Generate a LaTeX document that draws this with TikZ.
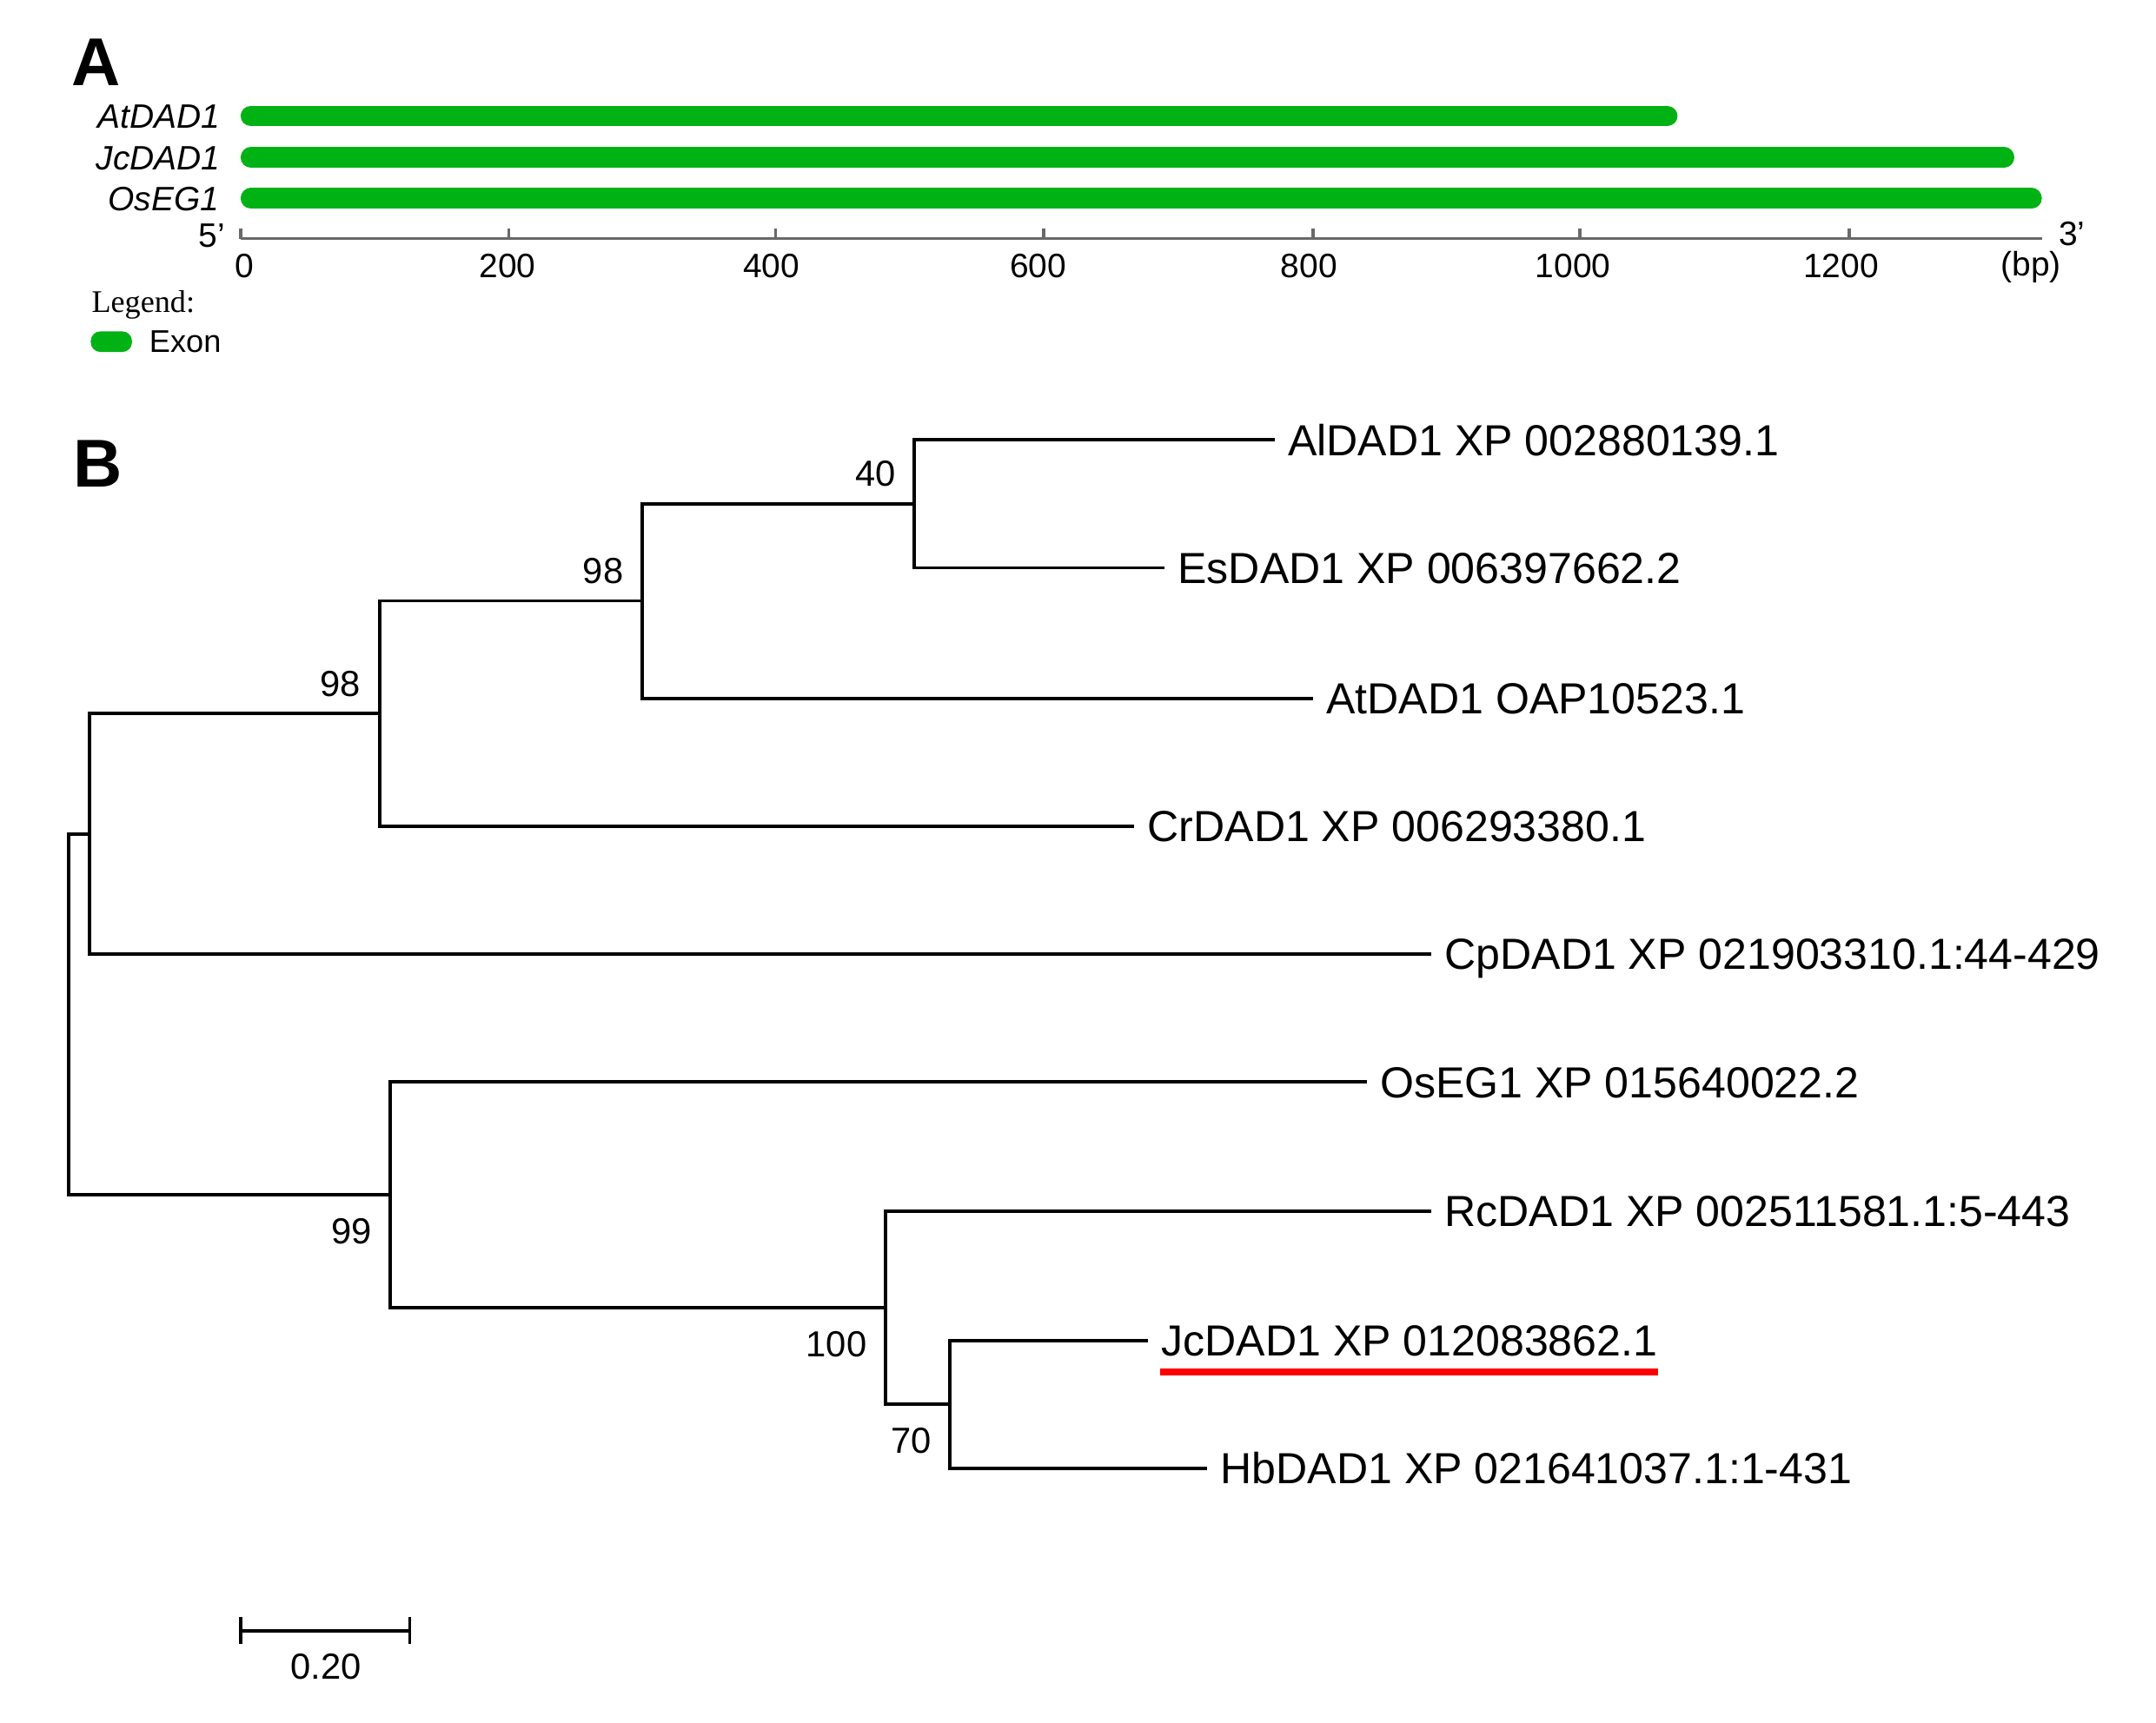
\documentclass[tikz,border=0pt]{standalone}
\usepackage{fontspec}
\setmainfont{Liberation Serif}
\setsansfont{Liberation Sans}
\usepackage{tikz}
\usetikzlibrary{positioning}
\definecolor{exongreen}{RGB}{0,178,20}
\definecolor{axisgray}{RGB}{105,105,105}

\begin{document}
\begin{tikzpicture}[x=0.01cm, y=-0.01cm,
    exon/.style={exongreen, line width=0.15cm, line cap=round},
    branch/.style={draw=black, line width=0.7pt},
    axisline/.style={draw=axisgray, line width=0.6pt},
    panel/.style={font=\sffamily\bfseries\fontsize{14}{15}\selectfont, inner sep=0pt},
    gene/.style={font=\sffamily\itshape\fontsize{7}{8}\selectfont, anchor=east, inner sep=0pt, text height=5pt, text depth=0pt},
    ticklabel/.style={font=\sffamily\fontsize{7}{8}\selectfont, inner sep=0pt, text height=5pt, text depth=0pt},
    leaf/.style={font=\sffamily\fontsize{9}{10}\selectfont, inner sep=0pt, text height=6.4pt, text depth=0pt},
    boot/.style={font=\sffamily\fontsize{7.5}{8}\selectfont, inner sep=0pt, text height=5.4pt, text depth=0pt},
    hilite/.style={draw=red, line width=1.3pt}]
         \useasboundingbox (0,0) rectangle (1568,1253);

         \node[panel] (lblA) at (70,45) {A};
         \node[gene] (gAt) at (161,84.3) {AtDAD1};
         \node[gene] (gJc) at (161,114.5) {JcDAD1};
         \node[gene] (gOs) at (160,144.3) {OsEG1};
         \draw[exon] (182.5,84.3) -- (1212.5,84.3);
         \draw[exon] (182.5,114.5) -- (1457.5,114.5);
         \draw[exon] (182.5,144.3) -- (1477.5,144.3);

         \draw[axisline] (175,173.5) -- (1485,173.5);
         \draw[axisline] (175,166) -- (175,173.5) (370,166) -- (370,173.5) (564,166) -- (564,173.5)
             (759,166) -- (759,173.5) (955,166) -- (955,173.5) (1149,166) -- (1149,173.5) (1345,166) -- (1345,173.5);
         \node[ticklabel] (k0) at (177.5,193) {0};
         \node[ticklabel] (k200) at (369,193) {200};
         \node[ticklabel] (k400) at (561,193) {400};
         \node[ticklabel] (k600) at (755,193) {600};
         \node[ticklabel] (k800) at (952,193) {800};
         \node[ticklabel] (k1000) at (1144,193) {1000};
         \node[ticklabel] (k1200) at (1339,193) {1200};
         \node[ticklabel, text depth=1.5pt] (kbp) at (1477,194.5) {(bp)};
         \node[ticklabel] (five) at (154,171) {5’};
         \node[ticklabel] (three) at (1507,170) {3’};

         \node[font=\rmfamily\fontsize{6.5}{7}\selectfont, anchor=base west, inner sep=0pt] (legend) at (66,227) {Legend:};
         \draw[fill=exongreen, draw=none, rounded corners=2pt] (66,241) rectangle (96,256);
         \node[ticklabel, font=\sffamily\fontsize{6.5}{7}\selectfont, text height=4.7pt, anchor=west] (exonkey) at (108,248) {Exon};

         \node[panel] (lblB) at (71,337) {B};

         \coordinate (tAl) at (927,320);
         \coordinate (tEs) at (847,413);
         \coordinate (tAt) at (955,508);
         \coordinate (tCr) at (825,601);
         \coordinate (tCp) at (1041,694);
         \coordinate (tOs) at (994,787);
         \coordinate (tRc) at (1041,881);
         \coordinate (tJc) at (835,975);
         \coordinate (tHb) at (878,1068);

         \coordinate (n40) at (665,366.5);
         \coordinate (n98a) at (467,437);
         \coordinate (n98b) at (276,519);
         \coordinate (n4) at (65,606.5);
         \coordinate (n70) at (691,1021.5);
         \coordinate (n100) at (644,951);
         \coordinate (n99) at (284,869);
         \coordinate (root) at (50,738);

         \draw[branch] (tAl) -| (n40) |- (tEs);
         \draw[branch] (n40) -| (n98a) |- (tAt);
         \draw[branch] (n98a) -| (n98b) |- (tCr);
         \draw[branch] (n98b) -| (n4) |- (tCp);
         \draw[branch] (n4) -| (root) |- (n99);
         \draw[branch] (tOs) -| (n99) |- (n100);
         \draw[branch] (tRc) -| (n100) |- (n70);
         \draw[branch] (tJc) -| (n70) |- (tHb);

         \node[leaf, right=0.09cm of tAl] (lAl) {AlDAD1 XP 002880139.1};
         \node[leaf, right=0.09cm of tEs] (lEs) {EsDAD1 XP 006397662.2};
         \node[leaf, right=0.09cm of tAt] (lAt) {AtDAD1 OAP10523.1};
         \node[leaf, right=0.09cm of tCr] (lCr) {CrDAD1 XP 006293380.1};
         \node[leaf, right=0.09cm of tCp] (lCp) {CpDAD1 XP 021903310.1:44-429};
         \node[leaf, right=0.09cm of tOs] (lOs) {OsEG1 XP 015640022.2};
         \node[leaf, right=0.09cm of tRc] (lRc) {RcDAD1 XP 002511581.1:5-443};
         \node[leaf, right=0.09cm of tJc] (lJc) {JcDAD1 XP 012083862.1};
         \node[leaf, right=0.09cm of tHb] (lHb) {HbDAD1 XP 021641037.1:1-431};
         \draw[hilite] ([yshift=-0.11cm]lJc.south west) -- ([yshift=-0.11cm]lJc.south east);

         \node[boot, above left=0.12cm and 0.13cm of n40] (b40) {40};
         \node[boot, above left=0.12cm and 0.13cm of n98a] (b98a) {98};
         \node[boot, above left=0.12cm and 0.13cm of n98b] (b98b) {98};
         \node[boot, below left=0.16cm and 0.13cm of n99] (b99) {99};
         \node[boot, below left=0.16cm and 0.13cm of n100] (b100) {100};
         \node[boot, below left=0.16cm and 0.13cm of n70] (b70) {70};

         \coordinate (sbL) at (175,1186);
         \coordinate (sbR) at (298,1186);
         \draw[branch] (sbL) -- (sbR);
         \draw[branch] ([yshift=0.1cm]sbL) -- ([yshift=-0.1cm]sbL);
         \draw[branch] ([yshift=0.1cm]sbR) -- ([yshift=-0.1cm]sbR);
         \node[boot] (sbText) at (237,1212) {0.20};
    \end{tikzpicture}
\end{document}
